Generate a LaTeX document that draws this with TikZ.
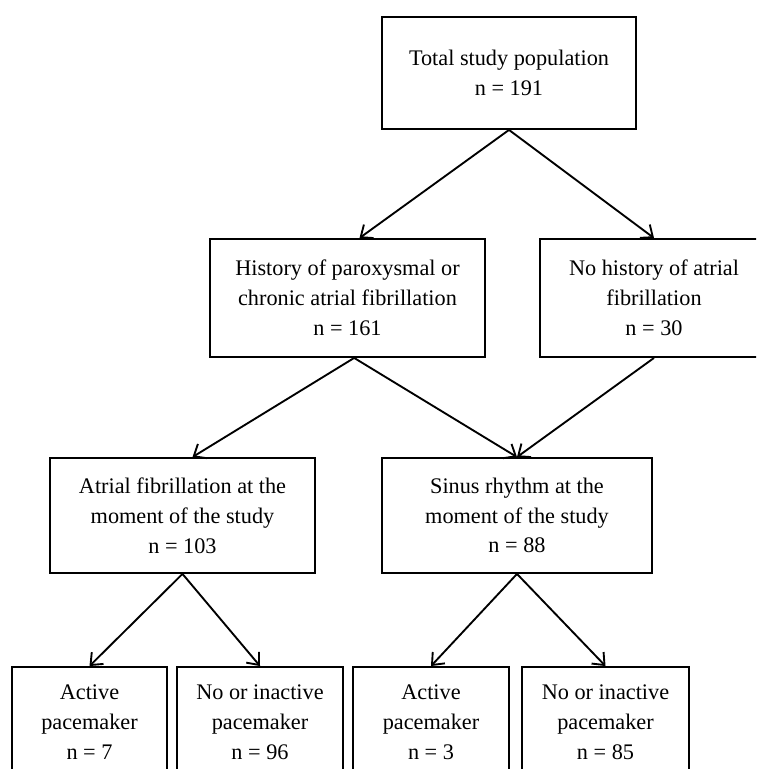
\documentclass[tikz,border=0pt]{standalone}
\usepackage{fontspec}
\setmainfont{Liberation Serif}
\usetikzlibrary{arrows.meta,positioning}
\tikzset{
  flowbox/.style={
    draw,
    rectangle,
    align=center,
    inner sep=0pt,
    line width=1.6pt,
    font=\fontsize{19}{25.5}\selectfont,
  },
  link/.style={line width=1.6pt, -{Straight Barb[length=3mm,width=5mm,line width=1.6pt]}},
}
\begin{document}
\begin{tikzpicture}
  \useasboundingbox (0,0) rectangle (22.68,23.07);
  \clip (0,0) rectangle (22.68,23.07);
  % upper levels
  \node[flowbox, minimum width=7.62cm, minimum height=3.36cm] (total) at (15.27,20.88) {Total study population\\n = 191};
  \node[flowbox, minimum width=8.25cm, minimum height=3.54cm] (hist) at (10.425,14.13) {History of paroxysmal or\\chronic atrial fibrillation\\n = 161};
  \node[flowbox, minimum width=6.84cm, minimum height=3.54cm] (nohist) at (19.62,14.13) {No history of atrial\\fibrillation\\n = 30};
  \node[flowbox, minimum width=7.95cm, minimum height=3.45cm] (af) at (5.475,7.605) {Atrial fibrillation at the\\moment of the study\\n = 103};
  \node[flowbox, minimum width=8.1cm, minimum height=3.45cm] (sr) at (15.51,7.605) {Sinus rhythm at the\\moment of the study\\n = 88};
  % pacemaker level
  \foreach \nm/\x/\w/\lbl/\n in {actAF/2.685/4.65/Active/7, noAF/7.8/4.98/No or inactive/96, actSR/12.93/4.68/Active/3, noSR/18.165/5.01/No or inactive/85} {
    \node[flowbox, minimum width=\w cm, minimum height=3.3cm] (\nm) at (\x,1.41) {\lbl\\pacemaker\\n = \n};
  }
  \draw[link] (total.south) -- ([xshift=3.6mm]hist.north);
  \draw[link] (total.south) -- (nohist.north);
  \draw[link] ([xshift=2mm]hist.south) -- ([xshift=3mm]af.north);
  \draw[link] ([xshift=2mm]hist.south) -- (sr.north);
  \draw[link] (nohist.south) -- (sr.north);
  \foreach \src/\dst in {af/actAF, af/noAF, sr/actSR, sr/noSR}
    \draw[link] (\src.south) -- (\dst.north);
\end{tikzpicture}
\end{document}
